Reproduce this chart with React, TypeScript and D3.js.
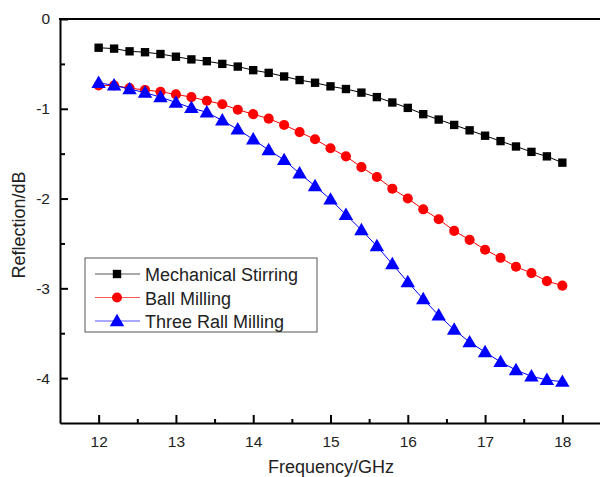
import { useEffect, useRef } from "react";
import * as d3 from "d3";

// Frequency points (GHz)
const frequency = [
  12, 12.2, 12.4, 12.6, 12.8, 13, 13.2, 13.4, 13.6, 13.8, 14, 14.2, 14.4, 14.6, 14.8, 15,
  15.2, 15.4, 15.6, 15.8, 16, 16.2, 16.4, 16.6, 16.8, 17, 17.2, 17.4, 17.6, 17.8, 18,
];

const mechanicalStirring = [
  -0.32, -0.33, -0.36, -0.37, -0.39, -0.42, -0.45, -0.47, -0.5, -0.53, -0.57, -0.6, -0.64,
  -0.68, -0.71, -0.75, -0.78, -0.82, -0.87, -0.93, -0.99, -1.06, -1.12, -1.18, -1.24, -1.3,
  -1.36, -1.42, -1.48, -1.53, -1.6,
];

const ballMilling = [
  -0.74, -0.74, -0.77, -0.79, -0.81, -0.84, -0.87, -0.91, -0.95, -1.01, -1.06, -1.11, -1.18,
  -1.26, -1.34, -1.44, -1.53, -1.65, -1.76, -1.89, -2.0, -2.12, -2.23, -2.36, -2.46, -2.57,
  -2.66, -2.76, -2.83, -2.92, -2.97,
];

const threeRollMilling = [
  -0.71, -0.74, -0.78, -0.82, -0.87, -0.93, -0.99, -1.04, -1.13, -1.23, -1.34, -1.46, -1.57,
  -1.72, -1.86, -2.01, -2.18, -2.35, -2.53, -2.73, -2.93, -3.12, -3.3, -3.46, -3.6, -3.71,
  -3.82, -3.91, -3.98, -4.02, -4.04,
];

const seriesNames = ["Mechanical Stirring", "Ball Milling", "Three Rall Milling"];
const seriesColors = ["#000000", "#ff0000", "#0000ff"];
const legendLineColors = ["#555555", "#ff5555", "#5555ff"];
const seriesSymbols = [d3.symbolSquare, d3.symbolCircle, d3.symbolTriangle];
const symbolSizes = [70, 80, 90];

const xTicks = [12, 13, 14, 15, 16, 17, 18];
const yTicks = [0, -1, -2, -3, -4];

function App() {
  const svgRef = useRef<SVGSVGElement>(null);
  const width = 600;
  const height = 477;
  const margin = { top: 19, bottom: 54, left: 60, right: 0 };

  useEffect(() => {
    const svg = d3.select(svgRef.current);
    svg.selectAll("*").remove();

    const font = "Liberation Sans, Arial, sans-serif";

    // scales
    const xScale = d3.scaleLinear().domain([11.5, 18.5]).range([margin.left, 601]);
    const yScale = d3.scaleLinear().domain([-4.5, 0]).range([height - margin.bottom, margin.top]);

    const allSeries = [mechanicalStirring, ballMilling, threeRollMilling];

    // lines and markers
    const line = d3.line<number>()
      .x((d, i) => xScale(frequency[i]))
      .y((d) => yScale(d));

    allSeries.forEach((values, k) => {
      svg.append("path")
        .datum(values)
        .attr("fill", "none")
        .attr("stroke", seriesColors[k])
        .attr("stroke-width", 1)
        .attr("d", line);

      const sym = d3.symbol().type(seriesSymbols[k]).size(symbolSizes[k]);
      svg.append("g")
        .selectAll("path")
        .data(values)
        .enter()
        .append("path")
        .attr("d", sym)
        .attr("transform", (d, i) => {
          const dy = k === 2 ? 1 : 0;
          return `translate(${xScale(frequency[i])},${yScale(d) + dy})`;
        })
        .attr("fill", seriesColors[k]);
    });

    // x axis (ticks pointing inward)
    const xAxis = svg.append("g")
      .attr("transform", `translate(0,${height - margin.bottom})`)
      .call(
        d3.axisBottom(xScale)
          .tickValues(xTicks)
          .tickSize(-8)
          .tickSizeOuter(0)
          .tickPadding(13)
          .tickFormat((d) => String(d))
      );
    xAxis.select(".domain").attr("stroke-width", 2);
    xAxis.selectAll(".tick line").attr("stroke-width", 2);
    xAxis.selectAll("text").attr("font-family", font).attr("font-size", 15.5).attr("fill", "#222");

    const xMinor = svg.append("g")
      .attr("transform", `translate(0,${height - margin.bottom})`)
      .call(
        d3.axisBottom(xScale)
          .tickValues(d3.range(12.5, 18.5, 1))
          .tickSize(-4)
          .tickSizeOuter(0)
          .tickFormat(() => "")
      );
    xMinor.select(".domain").remove();
    xMinor.selectAll(".tick line").attr("stroke-width", 2);

    // y axis (ticks pointing inward)
    const yAxis = svg.append("g")
      .attr("transform", `translate(${margin.left},0)`)
      .call(
        d3.axisLeft(yScale)
          .tickValues(yTicks)
          .tickSize(-8)
          .tickSizeOuter(0)
          .tickPadding(10)
          .tickFormat((d) => String(d))
      );
    yAxis.select(".domain").attr("stroke-width", 2);
    yAxis.selectAll(".tick line").attr("stroke-width", 2);
    yAxis.selectAll("text").attr("font-family", font).attr("font-size", 15.5).attr("fill", "#222");

    const yMinor = svg.append("g")
      .attr("transform", `translate(${margin.left},0)`)
      .call(
        d3.axisLeft(yScale)
          .tickValues([-0.5, -1.5, -2.5, -3.5])
          .tickSize(-5)
          .tickSizeOuter(0)
          .tickFormat(() => "")
      );
    yMinor.select(".domain").remove();
    yMinor.selectAll(".tick line").attr("stroke-width", 2);

    // top frame
    svg.append("line")
      .attr("x1", margin.left - 1)
      .attr("x2", width)
      .attr("y1", yScale(0))
      .attr("y2", yScale(0))
      .attr("stroke", "#000")
      .attr("stroke-width", 2);

    // axis titles
    svg.append("text")
      .attr("x", 331)
      .attr("y", 473)
      .attr("text-anchor", "middle")
      .attr("font-family", font)
      .attr("font-size", 18)
      .attr("fill", "#222")
      .text("Frequency/GHz");

    svg.append("text")
      .attr("transform", `translate(25,${(yScale(0) + yScale(-4.5)) / 2 + 4}) rotate(-90)`)
      .attr("text-anchor", "middle")
      .attr("font-family", font)
      .attr("font-size", 18)
      .attr("fill", "#222")
      .text("Reflection/dB");

    // legend
    const legend = svg.append("g").attr("transform", "translate(85,258)");
    legend.append("rect")
      .attr("width", 232)
      .attr("height", 74)
      .attr("fill", "#fff")
      .attr("stroke", "#555")
      .attr("stroke-width", 1);

    seriesNames.forEach((name, k) => {
      const ly = 16 + k * 23.5;
      legend.append("line")
        .attr("x1", 10)
        .attr("x2", 55)
        .attr("y1", ly)
        .attr("y2", ly)
        .attr("stroke", legendLineColors[k])
        .attr("stroke-width", 1);
      legend.append("path")
        .attr("d", d3.symbol().type(seriesSymbols[k]).size(symbolSizes[k])())
        .attr("transform", `translate(32,${ly + (k === 2 ? 1 : 0)})`)
        .attr("fill", seriesColors[k]);
      legend.append("text")
        .attr("x", 60)
        .attr("y", ly + 7)
        .attr("font-family", font)
        .attr("font-size", 18)
        .attr("fill", "#222")
        .text(name);
    });
  }, []);

  return (
    <div style={{ position: "fixed", left: 0, top: 0 }}>
      <svg ref={svgRef} width={width} height={height} style={{ display: "block", background: "#fff" }}></svg>
    </div>
  );
}

export default App;
